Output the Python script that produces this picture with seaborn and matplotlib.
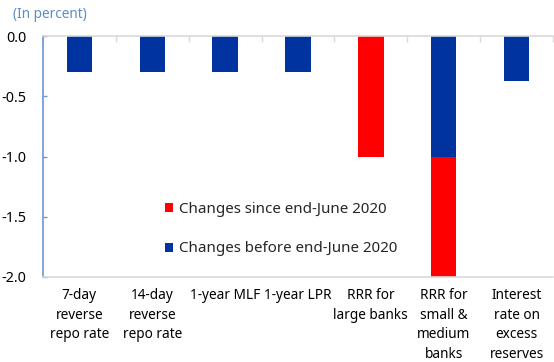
import matplotlib
matplotlib.use("Agg")
import matplotlib.pyplot as plt
import seaborn as sns
import pandas as pd
from matplotlib.ticker import FixedLocator

categories = ["7-day\nreverse\nrepo rate", "14-day\nreverse\nrepo rate", "1-year MLF",
              "1-year LPR", "RRR for\nlarge banks", "RRR for\nsmall &\nmedium\nbanks",
              "Interest\nrate on\nexcess\nreserves"]
before_june = [-0.3, -0.3, -0.3, -0.3, 0.0, -1.0, -0.37]
since_june = [0.0, 0.0, 0.0, 0.0, -1.0, -1.0, 0.0]
yticks = [0.0, -0.5, -1.0, -1.5, -2.0]

sns.set_theme(style="white")
plt.rcParams["font.family"] = ["Noto Sans", "DejaVu Sans"]
plt.rcParams["axes.unicode_minus"] = False

df = pd.DataFrame({"cat": categories, "before": before_june, "since": since_june})
df["total"] = df["before"] + df["since"]

fig = plt.figure(figsize=(5.54, 3.62), dpi=100)
ax = fig.add_axes([43/554, 1-277/362, 1-43/554-1/554, (277-36)/362])

BLUE = "#0033A0"
RED = "#FF0000"
sns.barplot(data=df, x="cat", y="total", color=RED, width=0.35, ax=ax,
            label="Changes since end-June 2020", saturation=1, linewidth=0)
sns.barplot(data=df, x="cat", y="before", color=BLUE, width=0.35, ax=ax,
            label="Changes before end-June 2020", saturation=1, linewidth=0)

ax.set_ylim(-2.0, 0.0)
ax.set_xlim(-0.5, len(categories) - 0.5)
ax.set_yticks(yticks)
ax.set_yticklabels([f"{v:.1f}" for v in yticks], fontsize=10.3, color="#000000")
ax.set_xlabel("")
ax.set_ylabel("")
ax.tick_params(axis="x", which="major", length=0, pad=8, labelsize=9.8, labelcolor="#000000")
for t in ax.get_xticklabels():
    t.set_linespacing(1.42)
    t.set_verticalalignment("top")
ax.xaxis.set_minor_locator(FixedLocator([i + 0.5 for i in range(-1, len(categories))]))
ax.tick_params(axis="x", which="minor", top=True, bottom=False, direction="in",
               length=4, width=1, color="#D9D9D9")
ax.tick_params(axis="y", direction="in", length=3, width=1, color="#6A96D4", pad=12, left=True)

for s in ["top", "bottom", "right"]:
    ax.spines[s].set_color("#D9D9D9")
    ax.spines[s].set_linewidth(1.2)
ax.spines["right"].set_visible(False)
ax.spines["left"].set_color("#6A96D4")
ax.spines["left"].set_linewidth(1.2)

h, l = ax.get_legend_handles_labels()
ax.legend(h, l, loc="center left", bbox_to_anchor=(165/554, 1-229/362),
          bbox_transform=fig.transFigure, frameon=False, fontsize=10.9,
          handlelength=0.55, handleheight=0.55, handletextpad=0.35,
          labelspacing=1.65, borderpad=0, borderaxespad=0)

fig.text(13/554, 1-14/362, "(In percent)", fontsize=9.8, color="#5B8EC6", va="center", ha="left")

fig.savefig("out.png", dpi=100)
